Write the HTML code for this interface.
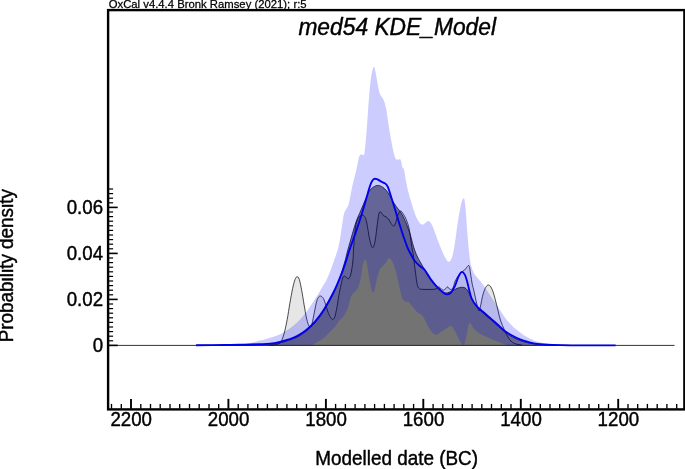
<!DOCTYPE html>
<html><head><meta charset="utf-8"><title>med54 KDE_Model</title>
<style>html,body{margin:0;padding:0;background:#fff}svg{display:block}</style></head>
<body><svg width="685" height="469" viewBox="0 0 685 469"><rect width="685" height="469" fill="#fff"/><path d="M270.0,345.3C271.0,345.2 274.3,345.0 276.0,344.6C277.7,344.2 279.0,343.7 280.0,343.0C281.0,342.3 281.1,342.0 281.8,340.2C282.6,338.4 283.6,335.5 284.5,332.0C285.4,328.5 286.3,324.2 287.2,319.4C288.1,314.6 289.0,308.2 289.9,303.1C290.8,298.0 291.8,292.5 292.6,288.6C293.5,284.7 294.2,281.5 295.0,279.5C295.8,277.5 296.5,276.8 297.2,276.8C297.9,276.8 298.6,277.2 299.3,279.5C300.1,281.8 300.9,286.2 301.7,290.4C302.5,294.6 303.4,300.5 304.1,304.9C304.9,309.3 305.5,313.3 306.2,316.6C306.9,319.9 307.7,323.1 308.4,324.8C309.1,326.5 309.6,327.1 310.2,327.0C310.8,326.9 311.3,326.4 312.0,323.9C312.7,321.4 313.6,315.9 314.4,312.1C315.2,308.3 315.9,303.9 316.7,301.3C317.4,298.7 318.2,297.6 318.9,296.7C319.6,295.8 320.4,295.9 321.1,296.2C321.9,296.5 322.6,297.1 323.4,298.5C324.2,299.9 325.0,302.6 325.8,304.9C326.6,307.2 327.2,310.0 328.0,312.1C328.8,314.2 329.9,316.4 330.7,317.6C331.5,318.8 332.2,319.6 332.9,319.4C333.6,319.2 334.3,318.4 334.9,316.6C335.5,314.8 336.0,312.0 336.7,308.5C337.4,305.0 338.1,299.7 338.8,295.8C339.5,291.9 340.3,287.9 341.0,284.9C341.7,281.9 342.2,279.1 342.8,277.7C343.4,276.2 343.9,276.1 344.6,276.2C345.3,276.2 346.3,277.6 347.0,278.0C347.7,278.4 348.2,279.1 348.8,278.6C349.4,278.1 350.1,276.7 350.6,275.0C351.1,273.3 351.5,271.1 351.9,268.6C352.3,266.1 352.7,263.2 353.0,260.0C353.3,256.8 353.2,254.1 353.5,249.4C353.8,244.7 354.5,236.4 355.0,232.0C355.5,227.6 355.6,225.5 356.3,223.0C357.0,220.5 358.0,218.3 359.0,217.0C360.0,215.7 361.6,215.5 362.3,215.2C363.1,214.9 362.9,214.8 363.5,215.4C364.1,216.0 365.1,216.8 365.7,218.6C366.3,220.4 366.8,223.3 367.4,226.3C368.0,229.3 368.5,233.5 369.1,236.6C369.7,239.7 370.6,243.3 371.2,245.1C371.8,246.9 372.3,247.9 372.9,247.6C373.5,247.3 374.1,245.5 374.6,243.4C375.1,241.3 375.5,238.5 376.0,234.8C376.5,231.1 377.2,224.8 377.7,221.2C378.2,217.6 378.6,215.1 379.0,213.5C379.4,211.9 379.7,211.8 380.2,211.8C380.7,211.8 381.3,212.8 381.9,213.5C382.5,214.2 382.9,215.1 383.6,215.7C384.3,216.3 385.3,216.3 386.2,216.9C387.1,217.5 387.9,218.3 388.8,219.5C389.7,220.7 390.5,222.7 391.3,223.8C392.1,224.9 393.2,226.2 393.9,226.0C394.6,225.8 395.0,224.4 395.6,222.9C396.2,221.4 396.7,218.6 397.3,216.9C397.9,215.2 398.4,213.7 399.0,212.7C399.6,211.7 400.1,211.0 400.7,211.0C401.3,211.0 401.7,211.7 402.4,212.7C403.1,213.7 404.1,215.2 405.0,216.9C405.9,218.6 406.8,220.9 407.5,222.9C408.2,224.9 408.7,226.6 409.2,228.9C409.7,231.2 410.0,233.9 410.4,236.6C410.8,239.3 411.0,242.0 411.5,245.1C412.0,248.2 412.7,251.2 413.3,255.0C413.9,258.8 414.2,263.2 414.9,268.1C415.6,273.0 416.5,281.2 417.3,284.6C418.1,288.1 418.7,288.0 419.6,288.8C420.6,289.6 420.5,289.2 423.0,289.3C425.5,289.4 432.2,289.6 434.8,289.2C437.4,288.8 437.4,286.8 438.7,286.9C440.0,287.0 441.4,289.5 442.5,289.9C443.6,290.3 444.2,289.9 445.0,289.4C445.8,288.9 446.7,286.9 447.5,286.9C448.3,286.9 449.2,289.1 450.0,289.4C450.8,289.7 451.8,289.2 452.5,288.5C453.2,287.8 453.6,286.2 454.0,285.0C454.4,283.8 454.3,282.8 455.2,281.0C456.1,279.2 457.9,276.0 459.5,274.1C461.1,272.2 463.0,271.3 464.6,269.9C466.2,268.5 467.9,264.9 468.9,265.6C469.9,266.3 470.0,271.0 470.6,274.1C471.2,277.2 471.7,281.5 472.3,284.4C472.9,287.2 473.3,288.1 474.0,291.2C474.7,294.3 475.8,299.8 476.6,303.1C477.5,306.4 478.4,310.5 479.1,310.8C479.8,311.1 480.2,307.2 480.8,304.8C481.4,302.4 481.8,299.0 482.5,296.3C483.2,293.6 484.2,290.5 485.1,288.6C486.0,286.8 486.8,285.6 487.6,285.2C488.5,284.8 489.3,285.1 490.2,286.1C491.1,287.1 491.9,288.9 492.8,291.2C493.7,293.5 494.5,296.6 495.3,299.7C496.1,302.8 497.0,306.6 497.9,310.0C498.8,313.4 499.2,316.5 500.4,320.0C501.6,323.5 503.3,327.8 504.9,331.1C506.5,334.4 508.2,337.7 509.9,339.8C511.6,341.9 512.8,342.7 514.9,343.6C517.0,344.5 521.1,344.9 522.3,345.2L522.3,345.4L270.0,345.4Z" fill="#e6e6e6" stroke="none"/><path d="M270.0,345.3C271.0,345.2 274.3,345.0 276.0,344.6C277.7,344.2 279.0,343.7 280.0,343.0C281.0,342.3 281.1,342.0 281.8,340.2C282.6,338.4 283.6,335.5 284.5,332.0C285.4,328.5 286.3,324.2 287.2,319.4C288.1,314.6 289.0,308.2 289.9,303.1C290.8,298.0 291.8,292.5 292.6,288.6C293.5,284.7 294.2,281.5 295.0,279.5C295.8,277.5 296.5,276.8 297.2,276.8C297.9,276.8 298.6,277.2 299.3,279.5C300.1,281.8 300.9,286.2 301.7,290.4C302.5,294.6 303.4,300.5 304.1,304.9C304.9,309.3 305.5,313.3 306.2,316.6C306.9,319.9 307.7,323.1 308.4,324.8C309.1,326.5 309.6,327.1 310.2,327.0C310.8,326.9 311.3,326.4 312.0,323.9C312.7,321.4 313.6,315.9 314.4,312.1C315.2,308.3 315.9,303.9 316.7,301.3C317.4,298.7 318.2,297.6 318.9,296.7C319.6,295.8 320.4,295.9 321.1,296.2C321.9,296.5 322.6,297.1 323.4,298.5C324.2,299.9 325.0,302.6 325.8,304.9C326.6,307.2 327.2,310.0 328.0,312.1C328.8,314.2 329.9,316.4 330.7,317.6C331.5,318.8 332.2,319.6 332.9,319.4C333.6,319.2 334.3,318.4 334.9,316.6C335.5,314.8 336.0,312.0 336.7,308.5C337.4,305.0 338.1,299.7 338.8,295.8C339.5,291.9 340.3,287.9 341.0,284.9C341.7,281.9 342.2,279.1 342.8,277.7C343.4,276.2 343.9,276.1 344.6,276.2C345.3,276.2 346.3,277.6 347.0,278.0C347.7,278.4 348.2,279.1 348.8,278.6C349.4,278.1 350.1,276.7 350.6,275.0C351.1,273.3 351.5,271.1 351.9,268.6C352.3,266.1 352.7,263.2 353.0,260.0C353.3,256.8 353.2,254.1 353.5,249.4C353.8,244.7 354.5,236.4 355.0,232.0C355.5,227.6 355.6,225.5 356.3,223.0C357.0,220.5 358.0,218.3 359.0,217.0C360.0,215.7 361.6,215.5 362.3,215.2C363.1,214.9 362.9,214.8 363.5,215.4C364.1,216.0 365.1,216.8 365.7,218.6C366.3,220.4 366.8,223.3 367.4,226.3C368.0,229.3 368.5,233.5 369.1,236.6C369.7,239.7 370.6,243.3 371.2,245.1C371.8,246.9 372.3,247.9 372.9,247.6C373.5,247.3 374.1,245.5 374.6,243.4C375.1,241.3 375.5,238.5 376.0,234.8C376.5,231.1 377.2,224.8 377.7,221.2C378.2,217.6 378.6,215.1 379.0,213.5C379.4,211.9 379.7,211.8 380.2,211.8C380.7,211.8 381.3,212.8 381.9,213.5C382.5,214.2 382.9,215.1 383.6,215.7C384.3,216.3 385.3,216.3 386.2,216.9C387.1,217.5 387.9,218.3 388.8,219.5C389.7,220.7 390.5,222.7 391.3,223.8C392.1,224.9 393.2,226.2 393.9,226.0C394.6,225.8 395.0,224.4 395.6,222.9C396.2,221.4 396.7,218.6 397.3,216.9C397.9,215.2 398.4,213.7 399.0,212.7C399.6,211.7 400.1,211.0 400.7,211.0C401.3,211.0 401.7,211.7 402.4,212.7C403.1,213.7 404.1,215.2 405.0,216.9C405.9,218.6 406.8,220.9 407.5,222.9C408.2,224.9 408.7,226.6 409.2,228.9C409.7,231.2 410.0,233.9 410.4,236.6C410.8,239.3 411.0,242.0 411.5,245.1C412.0,248.2 412.7,251.2 413.3,255.0C413.9,258.8 414.2,263.2 414.9,268.1C415.6,273.0 416.5,281.2 417.3,284.6C418.1,288.1 418.7,288.0 419.6,288.8C420.6,289.6 420.5,289.2 423.0,289.3C425.5,289.4 432.2,289.6 434.8,289.2C437.4,288.8 437.4,286.8 438.7,286.9C440.0,287.0 441.4,289.5 442.5,289.9C443.6,290.3 444.2,289.9 445.0,289.4C445.8,288.9 446.7,286.9 447.5,286.9C448.3,286.9 449.2,289.1 450.0,289.4C450.8,289.7 451.8,289.2 452.5,288.5C453.2,287.8 453.6,286.2 454.0,285.0C454.4,283.8 454.3,282.8 455.2,281.0C456.1,279.2 457.9,276.0 459.5,274.1C461.1,272.2 463.0,271.3 464.6,269.9C466.2,268.5 467.9,264.9 468.9,265.6C469.9,266.3 470.0,271.0 470.6,274.1C471.2,277.2 471.7,281.5 472.3,284.4C472.9,287.2 473.3,288.1 474.0,291.2C474.7,294.3 475.8,299.8 476.6,303.1C477.5,306.4 478.4,310.5 479.1,310.8C479.8,311.1 480.2,307.2 480.8,304.8C481.4,302.4 481.8,299.0 482.5,296.3C483.2,293.6 484.2,290.5 485.1,288.6C486.0,286.8 486.8,285.6 487.6,285.2C488.5,284.8 489.3,285.1 490.2,286.1C491.1,287.1 491.9,288.9 492.8,291.2C493.7,293.5 494.5,296.6 495.3,299.7C496.1,302.8 497.0,306.6 497.9,310.0C498.8,313.4 499.2,316.5 500.4,320.0C501.6,323.5 503.3,327.8 504.9,331.1C506.5,334.4 508.2,337.7 509.9,339.8C511.6,341.9 512.8,342.7 514.9,343.6C517.0,344.5 521.1,344.9 522.3,345.2" fill="none" stroke="#000" stroke-width="0.7"/><path d="M196.2,345.3C201.0,345.3 216.9,345.3 225.0,345.2C233.1,345.1 239.5,345.0 245.0,344.9C250.5,344.8 253.8,344.7 258.0,344.6C262.2,344.5 266.3,344.6 270.0,344.3C273.7,344.0 276.9,343.5 280.0,342.8C283.1,342.1 285.9,341.4 288.8,340.4C291.7,339.4 294.6,338.5 297.5,337.0C300.4,335.5 303.4,333.5 306.3,331.2C309.2,328.9 312.1,326.3 315.0,323.0C317.9,319.7 320.9,315.8 323.8,311.2C326.7,306.6 330.3,299.9 332.6,295.5C334.9,291.1 335.9,288.6 337.5,284.5C339.1,280.4 340.8,274.9 342.0,271.0C343.2,267.1 344.0,264.5 345.0,261.0C346.0,257.5 346.6,254.4 347.8,250.0C349.0,245.6 350.7,239.6 352.1,234.8C353.5,230.0 354.9,225.2 356.3,221.2C357.7,217.2 359.2,214.4 360.6,211.0C362.0,207.6 363.5,204.0 364.9,200.7C366.3,197.4 367.6,193.6 369.1,191.3C370.6,189.0 372.3,187.8 373.8,186.8C375.3,185.8 376.7,185.4 378.2,185.4C379.7,185.4 381.1,186.1 382.6,187.1C384.1,188.1 385.7,189.7 387.0,191.3C388.3,192.9 389.2,194.8 390.2,196.5C391.2,198.2 392.0,199.9 393.0,201.6C394.0,203.3 395.3,205.1 396.4,206.7C397.5,208.3 398.6,209.3 399.8,211.0C401.0,212.7 402.2,214.6 403.3,216.9C404.4,219.2 405.6,221.8 406.7,224.6C407.8,227.4 409.1,230.9 410.1,234.0C411.1,237.1 411.8,240.6 412.6,243.4C413.4,246.2 414.1,248.6 415.0,251.0C415.9,253.4 416.8,255.7 418.0,258.0C419.2,260.3 420.3,262.0 422.0,265.0C423.7,268.0 426.0,272.8 428.0,276.0C430.0,279.2 432.0,281.7 434.0,284.0C436.0,286.3 438.0,288.5 440.0,290.0C442.0,291.5 444.0,292.8 446.0,293.0C448.0,293.2 450.0,291.8 452.0,291.0C454.0,290.2 456.0,288.6 458.0,288.0C460.0,287.4 462.3,287.0 464.0,287.5C465.7,288.0 466.7,289.0 468.0,291.0C469.3,293.0 470.5,296.8 472.0,299.5C473.5,302.2 475.1,305.0 477.1,307.4C479.1,309.8 481.8,311.7 484.1,313.8C486.4,315.9 488.8,317.9 491.1,320.0C493.4,322.1 495.8,324.1 498.1,326.2C500.4,328.3 502.8,330.6 505.1,332.4C507.4,334.2 509.6,335.4 512.1,336.8C514.6,338.2 517.4,339.5 520.0,340.5C522.6,341.5 525.1,342.2 528.0,342.8C530.9,343.4 533.2,343.9 537.3,344.3C541.3,344.7 546.9,344.9 552.3,345.1C557.7,345.3 566.9,345.3 569.8,345.3L569.8,345.4L196.2,345.4Z" fill="#000" fill-opacity="0.5" stroke="none"/><path d="M196.2,345.3C201.0,345.3 216.9,345.3 225.0,345.2C233.1,345.1 239.5,345.0 245.0,344.9C250.5,344.8 253.8,344.7 258.0,344.6C262.2,344.5 266.3,344.6 270.0,344.3C273.7,344.0 276.9,343.5 280.0,342.8C283.1,342.1 285.9,341.4 288.8,340.4C291.7,339.4 294.6,338.5 297.5,337.0C300.4,335.5 303.4,333.5 306.3,331.2C309.2,328.9 312.1,326.3 315.0,323.0C317.9,319.7 320.9,315.8 323.8,311.2C326.7,306.6 330.3,299.9 332.6,295.5C334.9,291.1 335.9,288.6 337.5,284.5C339.1,280.4 340.8,274.9 342.0,271.0C343.2,267.1 344.0,264.5 345.0,261.0C346.0,257.5 346.6,254.4 347.8,250.0C349.0,245.6 350.7,239.6 352.1,234.8C353.5,230.0 354.9,225.2 356.3,221.2C357.7,217.2 359.2,214.4 360.6,211.0C362.0,207.6 363.5,204.0 364.9,200.7C366.3,197.4 367.6,193.6 369.1,191.3C370.6,189.0 372.3,187.8 373.8,186.8C375.3,185.8 376.7,185.4 378.2,185.4C379.7,185.4 381.1,186.1 382.6,187.1C384.1,188.1 385.7,189.7 387.0,191.3C388.3,192.9 389.2,194.8 390.2,196.5C391.2,198.2 392.0,199.9 393.0,201.6C394.0,203.3 395.3,205.1 396.4,206.7C397.5,208.3 398.6,209.3 399.8,211.0C401.0,212.7 402.2,214.6 403.3,216.9C404.4,219.2 405.6,221.8 406.7,224.6C407.8,227.4 409.1,230.9 410.1,234.0C411.1,237.1 411.8,240.6 412.6,243.4C413.4,246.2 414.1,248.6 415.0,251.0C415.9,253.4 416.8,255.7 418.0,258.0C419.2,260.3 420.3,262.0 422.0,265.0C423.7,268.0 426.0,272.8 428.0,276.0C430.0,279.2 432.0,281.7 434.0,284.0C436.0,286.3 438.0,288.5 440.0,290.0C442.0,291.5 444.0,292.8 446.0,293.0C448.0,293.2 450.0,291.8 452.0,291.0C454.0,290.2 456.0,288.6 458.0,288.0C460.0,287.4 462.3,287.0 464.0,287.5C465.7,288.0 466.7,289.0 468.0,291.0C469.3,293.0 470.5,296.8 472.0,299.5C473.5,302.2 475.1,305.0 477.1,307.4C479.1,309.8 481.8,311.7 484.1,313.8C486.4,315.9 488.8,317.9 491.1,320.0C493.4,322.1 495.8,324.1 498.1,326.2C500.4,328.3 502.8,330.6 505.1,332.4C507.4,334.2 509.6,335.4 512.1,336.8C514.6,338.2 517.4,339.5 520.0,340.5C522.6,341.5 525.1,342.2 528.0,342.8C530.9,343.4 533.2,343.9 537.3,344.3C541.3,344.7 546.9,344.9 552.3,345.1C557.7,345.3 566.9,345.3 569.8,345.3" fill="none" stroke="#000" stroke-width="0.7"/><path d="M196.0,345.2C200.0,345.1 213.5,345.0 220.0,344.9C226.5,344.8 230.0,344.7 235.0,344.4C240.0,344.1 245.8,343.5 250.0,342.9C254.2,342.3 257.1,341.4 260.0,340.6C262.9,339.9 264.9,339.2 267.6,338.4C270.3,337.6 273.5,337.0 276.4,335.8C279.3,334.6 282.2,333.1 285.1,331.4C288.0,329.6 291.4,327.3 293.9,325.3C296.4,323.3 297.9,321.8 300.0,319.6C302.1,317.4 304.2,314.8 306.2,312.2C308.1,309.6 309.9,306.7 311.7,304.0C313.5,301.3 315.3,298.7 317.1,295.8C318.9,292.9 321.0,289.3 322.5,286.7C324.0,284.1 325.0,282.8 326.2,280.4C327.4,278.0 328.8,274.8 329.8,272.2C330.9,269.6 331.2,268.7 332.5,265.0C333.8,261.3 336.3,254.4 337.6,250.0C338.9,245.6 339.2,243.1 340.1,238.3C341.0,233.5 342.0,225.5 342.7,221.2C343.4,216.9 343.4,215.5 344.4,212.7C345.4,209.8 347.4,208.4 348.7,204.1C350.0,199.8 350.8,192.8 352.1,187.1C353.4,181.4 355.1,175.2 356.3,170.0C357.5,164.8 358.4,158.5 359.4,156.0C360.4,153.5 361.6,155.2 362.4,154.8C363.2,154.4 363.8,156.4 364.4,153.5C365.0,150.6 365.5,144.2 366.1,137.3C366.7,130.5 367.3,120.7 367.9,112.4C368.5,104.1 369.2,94.1 369.9,87.4C370.6,80.8 371.2,76.0 371.9,72.5C372.6,69.0 373.5,66.7 374.1,66.7C374.7,66.7 375.0,69.5 375.6,72.5C376.2,75.5 377.2,81.4 377.9,84.9C378.6,88.4 378.9,91.2 379.9,93.7C380.8,96.2 382.6,97.4 383.6,99.9C384.6,102.4 385.3,104.4 386.1,108.6C386.9,112.8 387.8,119.7 388.6,124.9C389.4,130.1 390.3,135.2 391.1,139.8C391.9,144.4 392.8,149.1 393.6,152.3C394.4,155.6 394.9,158.1 396.1,159.3C397.3,160.6 399.6,158.5 400.6,159.8C401.6,161.1 401.7,165.3 402.3,167.0C402.9,168.7 403.5,167.8 404.1,170.0C404.7,172.2 405.1,176.5 405.8,180.2C406.5,183.9 407.4,188.2 408.4,192.2C409.4,196.2 410.7,200.4 411.8,204.1C412.9,207.8 414.1,211.6 415.2,214.4C416.3,217.2 417.5,219.5 418.6,221.2C419.7,222.9 420.9,224.3 422.0,224.6C423.1,224.9 424.4,223.5 425.4,222.9C426.4,222.3 427.0,221.0 428.0,221.1C429.0,221.2 430.0,221.7 431.2,223.6C432.4,225.5 433.5,228.7 435.0,232.4C436.5,236.2 438.3,241.9 440.0,246.1C441.7,250.2 443.6,254.7 445.0,257.3C446.4,259.9 447.5,261.8 448.7,261.8C449.9,261.8 450.9,260.5 452.0,257.3C453.1,254.1 454.1,247.8 455.0,242.4C455.9,237.0 456.6,230.3 457.4,224.9C458.2,219.5 459.1,213.9 459.9,209.9C460.6,205.9 461.2,203.1 461.9,201.2C462.6,199.3 463.6,197.2 464.2,198.7C464.8,200.1 465.2,204.3 465.7,209.9C466.2,215.5 466.8,224.9 467.4,232.4C468.0,239.9 468.8,249.2 469.4,254.8C470.0,260.4 470.3,262.8 471.2,266.1C472.1,269.4 473.2,272.1 474.9,274.8C476.6,277.5 478.7,279.0 481.2,282.3C483.7,285.6 487.2,290.9 489.9,294.9C492.6,298.9 494.9,302.4 497.4,306.1C499.9,309.9 502.4,314.1 504.9,317.4C507.4,320.7 509.9,323.6 512.4,326.1C514.9,328.6 517.3,330.4 519.8,332.3C522.3,334.2 524.4,335.8 527.3,337.3C530.2,338.9 533.5,340.5 537.3,341.6C541.0,342.7 545.2,343.5 549.8,344.1C554.4,344.7 556.4,344.8 564.8,345.0C573.2,345.2 594.1,345.2 600.0,345.3L600.0,345.4L507.4,345.4L507.4,345.3C506.6,345.0 504.5,344.4 502.4,343.6C500.3,342.8 497.4,341.7 494.9,340.6C492.4,339.6 489.9,338.5 487.4,337.3C484.9,336.1 482.0,335.1 479.7,333.6C477.4,332.2 475.2,330.3 473.7,328.6C472.2,326.9 471.5,324.2 470.7,323.6C469.9,323.0 469.4,322.5 468.7,324.8C467.9,327.1 467.0,334.0 466.2,337.3C465.4,340.6 464.8,344.2 463.7,344.8C462.6,345.4 461.4,343.4 459.9,341.1C458.4,338.8 456.3,333.6 454.9,331.1C453.4,328.6 452.6,326.5 451.2,326.1C449.8,325.7 448.1,327.5 446.2,328.6C444.3,329.7 441.5,331.8 440.0,332.8C438.5,333.8 438.2,334.3 437.2,334.5C436.1,334.7 435.1,334.9 433.7,333.8C432.3,332.7 430.4,330.1 429.0,328.0C427.6,325.9 426.7,323.1 425.5,320.9C424.3,318.7 423.3,316.4 421.9,315.0C420.5,313.6 418.9,313.6 417.3,312.2C415.8,310.8 414.1,308.5 412.6,306.8C411.2,305.1 409.9,303.0 408.6,302.1C407.3,301.2 405.9,302.2 404.8,301.4C403.7,300.6 402.9,300.1 402.0,297.5C401.1,294.9 400.2,289.8 399.2,285.7C398.2,281.6 397.3,276.7 396.2,272.8C395.1,268.9 393.8,264.7 392.7,262.3C391.6,259.9 390.6,258.8 389.8,258.3C389.0,257.8 388.9,258.1 388.0,259.2C387.1,260.2 385.8,262.9 384.4,264.6C383.0,266.3 381.1,266.8 379.8,269.3C378.5,271.9 377.6,276.4 376.7,279.9C375.8,283.4 375.1,288.4 374.4,290.4C373.7,292.4 373.2,293.1 372.5,292.1C371.8,291.1 371.1,288.2 370.4,284.6C369.6,281.0 368.7,274.5 368.0,270.5C367.3,266.5 366.8,262.2 366.2,260.6C365.6,259.0 364.8,259.4 364.1,260.6C363.4,261.9 362.6,265.9 362.2,268.1C361.8,270.4 361.9,271.6 361.5,274.1C361.1,276.6 360.4,280.5 359.7,283.1C358.9,285.7 358.1,287.8 357.0,289.5C355.9,291.2 354.4,291.8 353.3,293.1C352.2,294.5 351.4,295.6 350.6,297.6C349.9,299.6 349.6,302.5 348.8,304.9C348.1,307.3 347.2,310.0 346.1,312.1C345.1,314.2 343.7,316.1 342.5,317.6C341.3,319.1 340.0,319.7 338.8,321.2C337.6,322.7 336.7,324.8 335.2,326.6C333.7,328.4 331.6,330.3 329.8,332.1C328.0,333.9 326.1,336.0 324.3,337.5C322.5,339.0 320.8,339.9 318.9,341.1C316.9,342.3 314.4,344.0 312.6,344.7C310.8,345.4 308.8,345.2 308.0,345.3L308.0,345.4L196.0,345.4Z" fill="#0000ff" fill-opacity="0.2" stroke="none"/><line x1="109" y1="345.4" x2="674.5" y2="345.4" stroke="#000" stroke-width="0.8"/><path d="M196.1,345.2C200.9,345.2 216.8,345.1 225.0,345.0C233.2,344.9 239.5,344.7 245.0,344.6C250.5,344.5 253.8,344.4 258.0,344.2C262.2,344.0 266.3,344.1 270.0,343.7C273.7,343.3 276.9,342.6 280.0,341.9C283.1,341.2 285.9,340.4 288.8,339.4C291.7,338.4 294.6,337.5 297.5,335.9C300.4,334.3 303.4,332.4 306.3,330.0C309.2,327.6 312.1,325.1 315.0,321.7C317.9,318.3 320.9,314.4 323.8,309.8C326.7,305.2 330.3,298.4 332.6,294.0C334.9,289.6 335.9,287.3 337.5,283.5C339.1,279.7 341.2,274.6 342.5,271.3C343.8,268.0 344.0,267.1 345.2,263.5C346.4,259.9 347.8,255.1 349.5,250.0C351.2,244.9 353.6,238.5 355.5,233.1C357.4,227.7 358.9,223.2 360.6,217.8C362.3,212.4 364.3,205.5 365.7,200.7C367.1,195.9 368.1,192.0 369.1,188.8C370.1,185.6 370.8,183.3 371.7,181.7C372.6,180.0 373.4,179.3 374.3,178.9C375.2,178.5 375.8,178.7 376.9,179.1C378.0,179.5 379.8,180.8 381.2,181.6C382.6,182.3 384.3,182.7 385.4,183.6C386.5,184.5 387.0,185.2 387.9,187.1C388.8,188.9 389.5,191.6 390.5,194.7C391.5,197.8 392.8,202.1 393.9,205.8C395.0,209.5 396.2,213.2 397.3,216.9C398.4,220.6 399.6,224.4 400.7,228.0C401.8,231.6 403.0,235.0 404.1,238.3C405.2,241.6 406.4,244.9 407.5,247.6C408.6,250.3 409.8,252.3 411.0,254.5C412.2,256.7 413.3,259.1 414.8,261.0C416.3,262.9 418.1,264.5 419.8,266.0C421.5,267.5 422.9,267.7 424.8,270.0C426.7,272.3 429.1,277.0 431.2,279.9C433.3,282.8 435.4,285.2 437.5,287.4C439.6,289.6 442.0,291.7 443.7,292.9C445.4,294.1 446.2,294.5 447.5,294.4C448.8,294.3 450.0,293.8 451.2,292.4C452.4,291.0 453.6,288.9 454.9,286.2C456.1,283.5 457.5,278.6 458.7,276.2C459.9,273.8 460.9,272.1 461.9,271.9C462.9,271.7 464.0,273.1 464.9,274.9C465.8,276.6 466.7,279.9 467.4,282.4C468.1,284.9 468.5,287.3 469.2,290.0C469.9,292.7 470.5,296.0 471.8,298.8C473.1,301.6 475.1,304.3 477.1,306.6C479.2,308.9 481.8,310.8 484.1,312.8C486.4,314.9 488.8,316.9 491.1,318.9C493.4,320.9 495.8,322.9 498.1,325.0C500.4,327.1 502.8,329.4 505.1,331.2C507.4,332.9 509.6,334.1 512.1,335.5C514.6,336.9 517.4,338.3 520.0,339.4C522.6,340.5 525.1,341.2 528.0,341.9C530.9,342.6 533.2,343.3 537.3,343.8C541.3,344.3 546.9,344.6 552.3,344.8C557.7,345.1 559.2,345.2 569.8,345.3C580.3,345.4 608.0,345.3 615.6,345.3" fill="none" stroke="#0000ee" stroke-width="1.85" stroke-linejoin="round" stroke-linecap="butt"/><rect x="108.1" y="10.1" width="576.3" height="399.3" fill="none" stroke="#000" stroke-width="2.4"/><g stroke="#000"><line x1="111.5" y1="408.7" x2="111.5" y2="403.9" stroke-width="1.35"/><line x1="121.3" y1="408.7" x2="121.3" y2="403.9" stroke-width="1.35"/><line x1="131.0" y1="408.7" x2="131.0" y2="398.9" stroke-width="1.9"/><line x1="140.8" y1="408.7" x2="140.8" y2="403.9" stroke-width="1.35"/><line x1="150.5" y1="408.7" x2="150.5" y2="403.9" stroke-width="1.35"/><line x1="160.2" y1="408.7" x2="160.2" y2="403.9" stroke-width="1.35"/><line x1="170.0" y1="408.7" x2="170.0" y2="403.9" stroke-width="1.35"/><line x1="179.7" y1="408.7" x2="179.7" y2="403.9" stroke-width="1.35"/><line x1="189.5" y1="408.7" x2="189.5" y2="403.9" stroke-width="1.35"/><line x1="199.2" y1="408.7" x2="199.2" y2="403.9" stroke-width="1.35"/><line x1="209.0" y1="408.7" x2="209.0" y2="403.9" stroke-width="1.35"/><line x1="218.7" y1="408.7" x2="218.7" y2="403.9" stroke-width="1.35"/><line x1="228.4" y1="408.7" x2="228.4" y2="398.9" stroke-width="1.9"/><line x1="238.2" y1="408.7" x2="238.2" y2="403.9" stroke-width="1.35"/><line x1="247.9" y1="408.7" x2="247.9" y2="403.9" stroke-width="1.35"/><line x1="257.7" y1="408.7" x2="257.7" y2="403.9" stroke-width="1.35"/><line x1="267.4" y1="408.7" x2="267.4" y2="403.9" stroke-width="1.35"/><line x1="277.2" y1="408.7" x2="277.2" y2="403.9" stroke-width="1.35"/><line x1="286.9" y1="408.7" x2="286.9" y2="403.9" stroke-width="1.35"/><line x1="296.7" y1="408.7" x2="296.7" y2="403.9" stroke-width="1.35"/><line x1="306.4" y1="408.7" x2="306.4" y2="403.9" stroke-width="1.35"/><line x1="316.1" y1="408.7" x2="316.1" y2="403.9" stroke-width="1.35"/><line x1="325.9" y1="408.7" x2="325.9" y2="398.9" stroke-width="1.9"/><line x1="335.6" y1="408.7" x2="335.6" y2="403.9" stroke-width="1.35"/><line x1="345.4" y1="408.7" x2="345.4" y2="403.9" stroke-width="1.35"/><line x1="355.1" y1="408.7" x2="355.1" y2="403.9" stroke-width="1.35"/><line x1="364.9" y1="408.7" x2="364.9" y2="403.9" stroke-width="1.35"/><line x1="374.6" y1="408.7" x2="374.6" y2="403.9" stroke-width="1.35"/><line x1="384.4" y1="408.7" x2="384.4" y2="403.9" stroke-width="1.35"/><line x1="394.1" y1="408.7" x2="394.1" y2="403.9" stroke-width="1.35"/><line x1="403.8" y1="408.7" x2="403.8" y2="403.9" stroke-width="1.35"/><line x1="413.6" y1="408.7" x2="413.6" y2="403.9" stroke-width="1.35"/><line x1="423.3" y1="408.7" x2="423.3" y2="398.9" stroke-width="1.9"/><line x1="433.1" y1="408.7" x2="433.1" y2="403.9" stroke-width="1.35"/><line x1="442.8" y1="408.7" x2="442.8" y2="403.9" stroke-width="1.35"/><line x1="452.6" y1="408.7" x2="452.6" y2="403.9" stroke-width="1.35"/><line x1="462.3" y1="408.7" x2="462.3" y2="403.9" stroke-width="1.35"/><line x1="472.1" y1="408.7" x2="472.1" y2="403.9" stroke-width="1.35"/><line x1="481.8" y1="408.7" x2="481.8" y2="403.9" stroke-width="1.35"/><line x1="491.5" y1="408.7" x2="491.5" y2="403.9" stroke-width="1.35"/><line x1="501.3" y1="408.7" x2="501.3" y2="403.9" stroke-width="1.35"/><line x1="511.0" y1="408.7" x2="511.0" y2="403.9" stroke-width="1.35"/><line x1="520.8" y1="408.7" x2="520.8" y2="398.9" stroke-width="1.9"/><line x1="530.5" y1="408.7" x2="530.5" y2="403.9" stroke-width="1.35"/><line x1="540.3" y1="408.7" x2="540.3" y2="403.9" stroke-width="1.35"/><line x1="550.0" y1="408.7" x2="550.0" y2="403.9" stroke-width="1.35"/><line x1="559.7" y1="408.7" x2="559.7" y2="403.9" stroke-width="1.35"/><line x1="569.5" y1="408.7" x2="569.5" y2="403.9" stroke-width="1.35"/><line x1="579.2" y1="408.7" x2="579.2" y2="403.9" stroke-width="1.35"/><line x1="589.0" y1="408.7" x2="589.0" y2="403.9" stroke-width="1.35"/><line x1="598.7" y1="408.7" x2="598.7" y2="403.9" stroke-width="1.35"/><line x1="608.5" y1="408.7" x2="608.5" y2="403.9" stroke-width="1.35"/><line x1="618.2" y1="408.7" x2="618.2" y2="398.9" stroke-width="1.9"/><line x1="628.0" y1="408.7" x2="628.0" y2="403.9" stroke-width="1.35"/><line x1="637.7" y1="408.7" x2="637.7" y2="403.9" stroke-width="1.35"/><line x1="647.4" y1="408.7" x2="647.4" y2="403.9" stroke-width="1.35"/><line x1="657.2" y1="408.7" x2="657.2" y2="403.9" stroke-width="1.35"/><line x1="666.9" y1="408.7" x2="666.9" y2="403.9" stroke-width="1.35"/><line x1="676.7" y1="408.7" x2="676.7" y2="403.9" stroke-width="1.35"/><line x1="109" y1="345.4" x2="117.7" y2="345.4" stroke-width="1.6"/><line x1="109" y1="340.8" x2="113.1" y2="340.8" stroke-width="1.2"/><line x1="109" y1="336.2" x2="113.1" y2="336.2" stroke-width="1.2"/><line x1="109" y1="331.6" x2="113.1" y2="331.6" stroke-width="1.2"/><line x1="109" y1="327.0" x2="113.1" y2="327.0" stroke-width="1.2"/><line x1="109" y1="322.4" x2="113.1" y2="322.4" stroke-width="1.2"/><line x1="109" y1="317.8" x2="113.1" y2="317.8" stroke-width="1.2"/><line x1="109" y1="313.2" x2="113.1" y2="313.2" stroke-width="1.2"/><line x1="109" y1="308.6" x2="113.1" y2="308.6" stroke-width="1.2"/><line x1="109" y1="304.0" x2="113.1" y2="304.0" stroke-width="1.2"/><line x1="109" y1="299.4" x2="117.7" y2="299.4" stroke-width="1.6"/><line x1="109" y1="294.8" x2="113.1" y2="294.8" stroke-width="1.2"/><line x1="109" y1="290.2" x2="113.1" y2="290.2" stroke-width="1.2"/><line x1="109" y1="285.6" x2="113.1" y2="285.6" stroke-width="1.2"/><line x1="109" y1="281.0" x2="113.1" y2="281.0" stroke-width="1.2"/><line x1="109" y1="276.4" x2="113.1" y2="276.4" stroke-width="1.2"/><line x1="109" y1="271.8" x2="113.1" y2="271.8" stroke-width="1.2"/><line x1="109" y1="267.2" x2="113.1" y2="267.2" stroke-width="1.2"/><line x1="109" y1="262.6" x2="113.1" y2="262.6" stroke-width="1.2"/><line x1="109" y1="258.0" x2="113.1" y2="258.0" stroke-width="1.2"/><line x1="109" y1="253.4" x2="117.7" y2="253.4" stroke-width="1.6"/><line x1="109" y1="248.8" x2="113.1" y2="248.8" stroke-width="1.2"/><line x1="109" y1="244.2" x2="113.1" y2="244.2" stroke-width="1.2"/><line x1="109" y1="239.6" x2="113.1" y2="239.6" stroke-width="1.2"/><line x1="109" y1="235.0" x2="113.1" y2="235.0" stroke-width="1.2"/><line x1="109" y1="230.4" x2="113.1" y2="230.4" stroke-width="1.2"/><line x1="109" y1="225.8" x2="113.1" y2="225.8" stroke-width="1.2"/><line x1="109" y1="221.2" x2="113.1" y2="221.2" stroke-width="1.2"/><line x1="109" y1="216.6" x2="113.1" y2="216.6" stroke-width="1.2"/><line x1="109" y1="212.0" x2="113.1" y2="212.0" stroke-width="1.2"/><line x1="109" y1="207.4" x2="117.7" y2="207.4" stroke-width="1.6"/><line x1="109" y1="202.8" x2="113.1" y2="202.8" stroke-width="1.2"/><line x1="109" y1="198.2" x2="113.1" y2="198.2" stroke-width="1.2"/><line x1="109" y1="193.6" x2="113.1" y2="193.6" stroke-width="1.2"/><line x1="109" y1="189.0" x2="113.1" y2="189.0" stroke-width="1.2"/></g><g font-family="Liberation Sans, sans-serif" fill="#000" stroke="#000" stroke-width="0.4" stroke-linejoin="round"><text transform="translate(108.7,7.9) scale(1,1.04)" font-size="11.32" text-anchor="start" stroke-width="0.25">OxCal v4.4.4 Bronk Ramsey (2021); r:5</text><text transform="translate(397.2,35.2) scale(1,1.04)" font-size="22.8" text-anchor="middle" font-style="italic">med54 KDE_Model</text><text transform="translate(131.2,426.4) scale(1,1.04)" font-size="18.7" text-anchor="middle">2200</text><text transform="translate(228.6,426.4) scale(1,1.04)" font-size="18.7" text-anchor="middle">2000</text><text transform="translate(326.1,426.4) scale(1,1.04)" font-size="18.7" text-anchor="middle">1800</text><text transform="translate(423.5,426.4) scale(1,1.04)" font-size="18.7" text-anchor="middle">1600</text><text transform="translate(521.0,426.4) scale(1,1.04)" font-size="18.7" text-anchor="middle">1400</text><text transform="translate(618.4,426.4) scale(1,1.04)" font-size="18.7" text-anchor="middle">1200</text><text transform="translate(103.1,351.6) scale(1,1.04)" font-size="18.7" text-anchor="end">0</text><text transform="translate(103.1,305.6) scale(1,1.04)" font-size="18.7" text-anchor="end">0.02</text><text transform="translate(103.1,259.6) scale(1,1.04)" font-size="18.7" text-anchor="end">0.04</text><text transform="translate(103.1,213.6) scale(1,1.04)" font-size="18.7" text-anchor="end">0.06</text><text transform="translate(396.6,465.0) scale(1,1.04)" font-size="18.9" text-anchor="middle">Modelled date (BC)</text><text transform="translate(13.4,265.7) rotate(-90) scale(1,1.04)" font-size="18.9" text-anchor="middle">Probability density</text></g></svg></body></html>
